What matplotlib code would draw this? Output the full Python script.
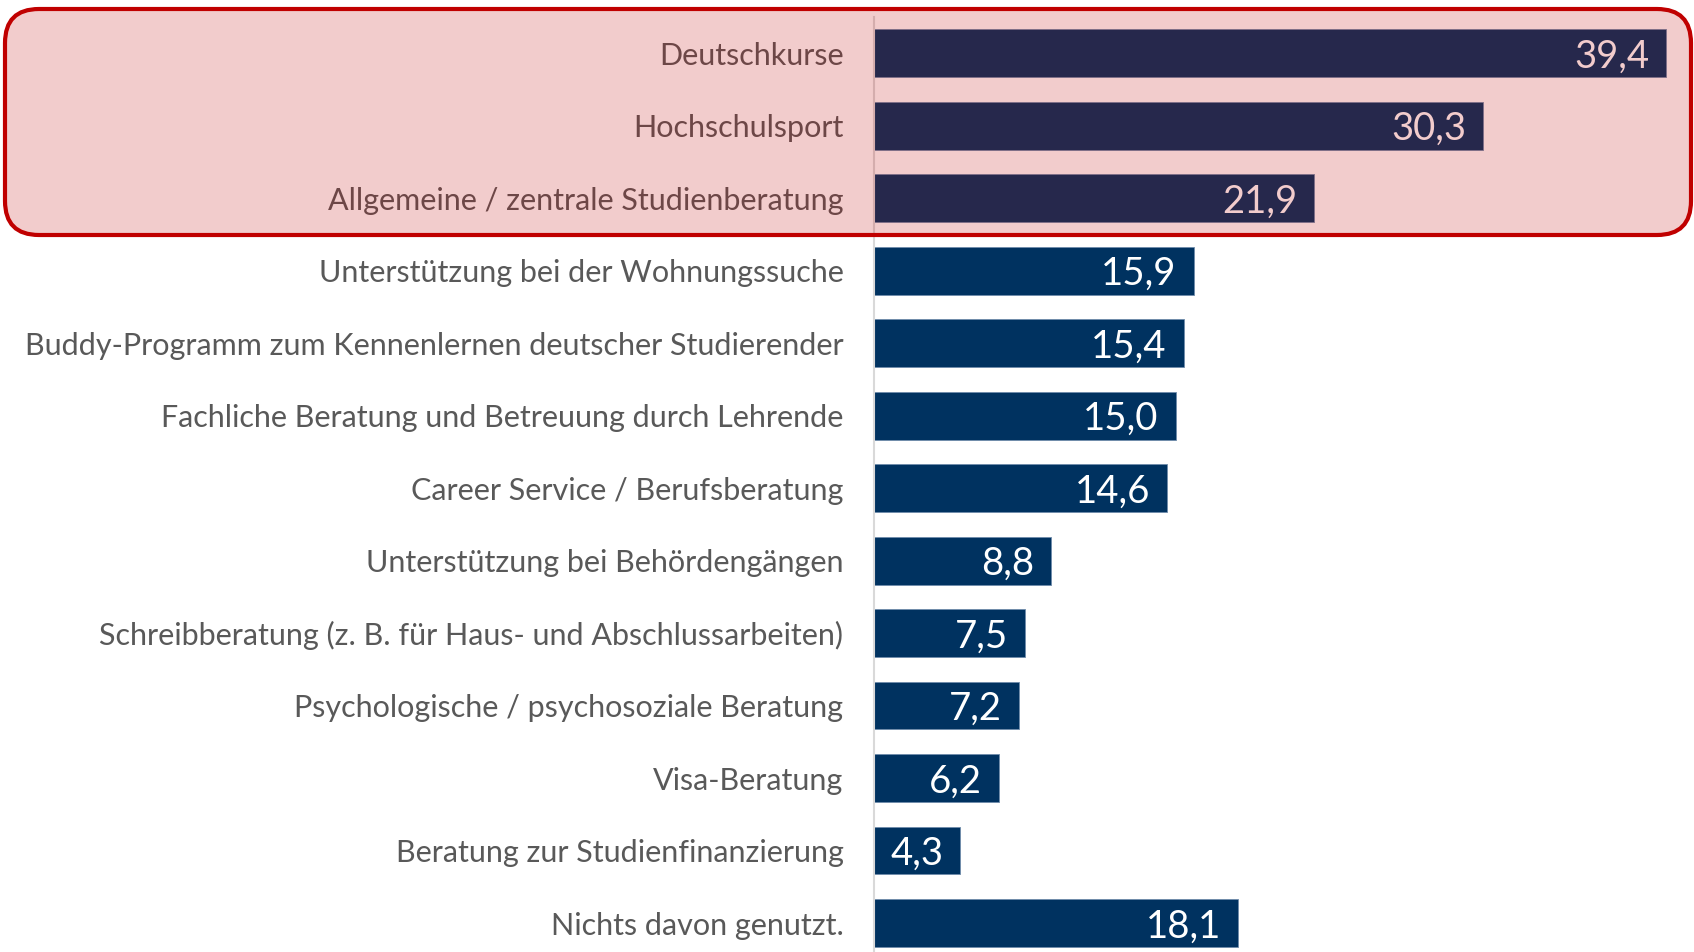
import matplotlib
matplotlib.use("Agg")
import matplotlib.pyplot as plt
from matplotlib.patches import FancyBboxPatch
from matplotlib.transforms import IdentityTransform

categories = [
    "Deutschkurse",
    "Hochschulsport",
    "Allgemeine / zentrale Studienberatung",
    "Unterstützung bei der Wohnungssuche",
    "Buddy-Programm zum Kennenlernen deutscher Studierender",
    "Fachliche Beratung und Betreuung durch Lehrende",
    "Career Service / Berufsberatung",
    "Unterstützung bei Behördengängen",
    "Schreibberatung (z. B. für Haus- und Abschlussarbeiten)",
    "Psychologische / psychosoziale Beratung",
    "Visa-Beratung",
    "Beratung zur Studienfinanzierung",
    "Nichts davon genutzt.",
]
values = [39.4, 30.3, 21.9, 15.9, 15.4, 15.0, 14.6, 8.8, 7.5, 7.2, 6.2, 4.3, 18.1]

W, H, DPI = 1694, 952, 100
plt.rcParams['font.family'] = ['Lato', 'DejaVu Sans']

fig = plt.figure(figsize=(W / DPI, H / DPI), dpi=DPI)
fig.patch.set_facecolor('white')

# axes placement in pixels
ax_left, ax_right = 874, 1694
ax_top, ax_bottom = 17, 952
ax = fig.add_axes([ax_left / W, 1 - ax_bottom / H, (ax_right - ax_left) / W, (ax_bottom - ax_top) / H])

px_per_unit = (1666 - 874) / 39.4
ax.set_xlim(0, (ax_right - ax_left) / px_per_unit)
ax.set_ylim(12.4, -0.5)

ypos = list(range(len(categories)))
bar_color = '#003260'
ax.barh(ypos, values, height=0.66, color=bar_color, edgecolor='#6f8cab', linewidth=0.6, zorder=2)

for y, v in zip(ypos, values):
    ax.annotate(f"{v:.1f}".replace('.', ','), xy=(v, y), xytext=(-17, -3.5),
                textcoords='offset pixels', ha='right', va='center',
                color='white', fontsize=27.5, zorder=3)

ax.set_yticks(ypos)
ax.set_yticklabels(categories, fontsize=22, color='#595959')
ax.tick_params(axis='y', length=0, pad=22)
ax.set_xticks([])
for s in ['top', 'right', 'bottom']:
    ax.spines[s].set_visible(False)
ax.spines['left'].set_color('#D9D9D9')
ax.spines['left'].set_linewidth(1.5)
ax.set_facecolor('none')

# highlight box (pixel coordinates, origin bottom-left)
x0, x1 = 5, 1691
y_top, y_bot = 9, 235
box = FancyBboxPatch((x0, H - y_bot), x1 - x0, y_bot - y_top,
                     boxstyle="round,pad=0,rounding_size=34",
                     facecolor=(0.753, 0.0, 0.0, 0.2), edgecolor=(0.753, 0.0, 0.0, 1.0),
                     linewidth=3.0, transform=IdentityTransform(), zorder=10)
fig.add_artist(box)

fig.savefig('out.png', dpi=DPI, facecolor='white')
